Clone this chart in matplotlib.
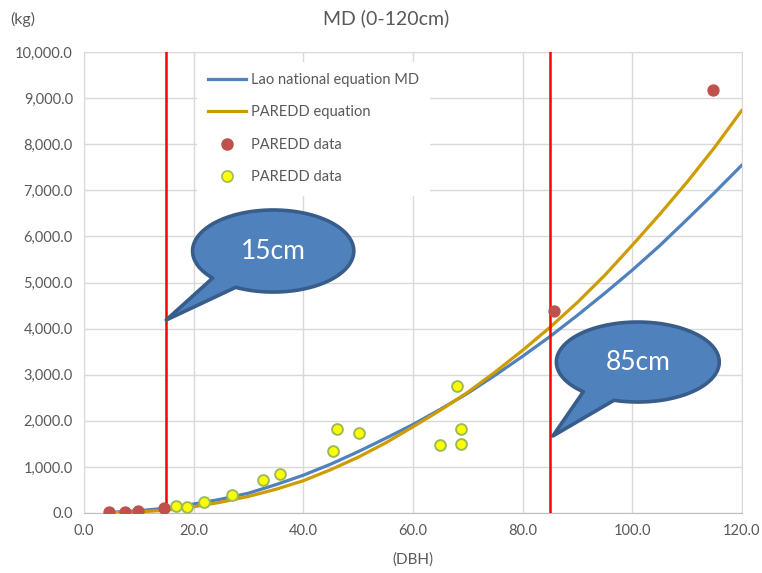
import numpy as np
import matplotlib
matplotlib.use('Agg')
import matplotlib.pyplot as plt
from matplotlib.lines import Line2D
from matplotlib.patches import Polygon
from matplotlib.ticker import FuncFormatter, MultipleLocator

# ── Data ──────────────────────────────────────────────────────────────────────
dbh_grid = [5, 10, 15, 20, 25, 30, 35, 40, 45, 50, 55, 60,
            65, 70, 75, 80, 85, 90, 95, 100, 105, 110, 115, 120]
lao_md = [15, 50, 105, 195, 300, 430, 615, 820, 1060, 1330, 1620, 1920,
          2250, 2600, 2990, 3400, 3830, 4290, 4770, 5270, 5800, 6370, 6950, 7550]
paredd_eq = [5, 25, 60, 135, 235, 360, 515, 700, 940, 1210, 1520, 1870,
             2230, 2620, 3060, 3530, 4030, 4570, 5160, 5810, 6480, 7180, 7930, 8740]

red_dbh = [4.6, 7.5, 9.9, 14.5, 85.7, 114.7]
red_agb = [25, 25, 50, 105, 4380, 9175]

yellow_dbh = [16.7, 18.7, 21.8, 26.9, 32.7, 35.7, 45.4, 46.2, 50.2,
              64.9, 68.8, 68.8, 68.0]
yellow_agb = [158, 124, 245, 383, 716, 853, 1352, 1815, 1742,
              1475, 1497, 1815, 2762]

cut_lines = [15, 85]
callout_labels = ['15cm', '85cm']

# ── Style ────────────────────────────────────────────────────────────────────
GREY_TXT = '#595959'
GRID = '#d9d9d9'
BLUE = '#4f81bd'
GOLD = '#cf9c00'
plt.rcParams.update({
    'font.family': ['Lato', 'DejaVu Sans'],
    'font.size': 10.5,
})

fig = plt.figure(figsize=(7.62, 5.73), dpi=100)
ax = fig.add_axes([84 / 762, 60 / 573, 658 / 762, 461 / 573])

ax.plot(dbh_grid, lao_md, color=BLUE, lw=2.3, zorder=3,
        solid_capstyle='round', solid_joinstyle='round')
ax.plot(dbh_grid, paredd_eq, color=GOLD, lw=2.3, zorder=3,
        solid_capstyle='round', solid_joinstyle='round')
for xv in cut_lines:
    ax.axvline(xv, color='#ff0000', lw=1.8, zorder=4)
ax.scatter(red_dbh, red_agb, s=62, color='#c0504d', edgecolor='#c0504d',
           zorder=5)
ax.scatter(yellow_dbh, yellow_agb, s=60, color='#ffff00', edgecolor='#9bbb59',
           linewidths=1.4, zorder=5)

ax.set_xlim(0, 120)
ax.set_ylim(0, 10000)
ax.xaxis.set_major_locator(MultipleLocator(20))
ax.yaxis.set_major_locator(MultipleLocator(1000))
ax.xaxis.set_major_formatter(FuncFormatter(lambda v, p: f'{v:.1f}'))
ax.yaxis.set_major_formatter(FuncFormatter(lambda v, p: f'{v:,.1f}'))
ax.tick_params(length=0, colors=GREY_TXT, labelsize=10.5, pad=8)
ax.grid(True, color=GRID, lw=1.0, zorder=0)
ax.set_axisbelow(True)
for side in ['top', 'left', 'right']:
    ax.spines[side].set_color(GRID)
ax.spines['bottom'].set_color('#bfbfbf')

ax.set_xlabel('(DBH)', color=GREY_TXT, fontsize=11, labelpad=10)
fig.text(386 / 762, 1 - 18 / 573, 'MD (0-120cm)', ha='center', va='center',
         color=GREY_TXT, fontsize=14)
fig.text(10 / 762, 1 - 19 / 573, '(kg)', ha='left', va='center',
         color=GREY_TXT, fontsize=11.5)

# legend
handles = [
    Line2D([], [], color=BLUE, lw=2.3),
    Line2D([], [], color=GOLD, lw=2.3),
    Line2D([], [], ls='none', marker='o', ms=8, color='#c0504d'),
    Line2D([], [], ls='none', marker='o', ms=8, markerfacecolor='#ffff00',
           markeredgecolor='#9bbb59', markeredgewidth=1.2),
]
labels = ['Lao national equation MD', 'PAREDD equation',
          'PAREDD data', 'PAREDD data']
leg = ax.legend(handles, labels, loc='upper left',
                bbox_to_anchor=(0.16, 0.995), frameon=True, fancybox=False,
                facecolor='white', edgecolor='none', framealpha=1,
                labelspacing=1.25, handlelength=2.6, handletextpad=0.3,
                borderpad=0.8, fontsize=10.5, labelcolor=GREY_TXT)
leg.set_zorder(6)


# speech-bubble callouts
def callout(cx, cy, w, h, a_lo, a_hi, tip, text):
    t = np.radians(np.linspace(a_hi, a_lo + 360, 200))
    xs = cx + w / 2 * np.cos(t)
    ys = cy + h / 2 * np.sin(t)
    pts = np.column_stack([xs, ys]).tolist() + [list(tip)]
    poly = Polygon(pts, closed=True, facecolor=BLUE, edgecolor='#385d8a',
                   lw=2.6, joinstyle='round', zorder=7, clip_on=False)
    ax.add_patch(poly)
    ax.text(cx, cy, text, ha='center', va='center', color='white',
            fontsize=19, zorder=8)


callout(34.5, 5683, 29.4, 1780, -138.7, -117.7, (15, 4187), callout_labels[0])
callout(101.0, 3275, 29.7, 1735, -132, -107, (85.5, 1670), callout_labels[1])

fig.savefig('out.png', dpi=100)
